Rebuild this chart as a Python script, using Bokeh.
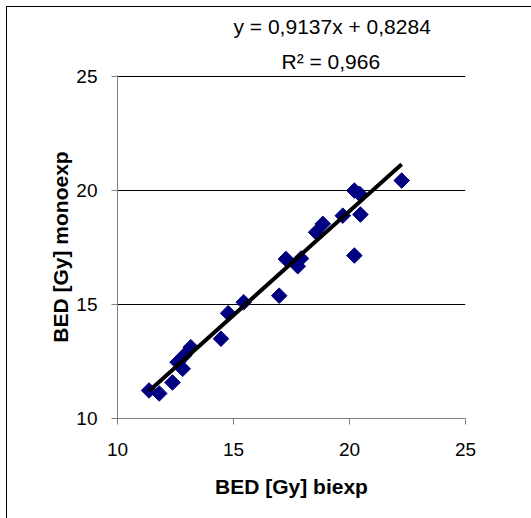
import numpy as np
from bokeh.plotting import figure
from bokeh.models import Title, FixedTicker, ColumnDataSource
from bokeh.embed import file_html
from bokeh.resources import INLINE

# Data
bed_biexp = [11.36, 11.8, 12.37, 12.81, 12.59, 12.87, 13.16, 14.46, 14.77, 15.44,
             16.97, 17.26, 17.77, 17.91, 18.56, 18.85, 19.71, 20.21, 20.21, 20.43,
             20.47, 22.25]
bed_monoexp = [11.23, 11.1, 11.58, 12.18, 12.47, 12.76, 13.13, 13.5, 14.62, 15.1,
               15.39, 17.0, 16.68, 17.02, 18.17, 18.54, 18.9, 17.15, 20.0, 19.86,
               18.95, 20.44]
slope = 0.9137
intercept = 0.8284
r_squared = 0.966
ticks = [10, 15, 20, 25]

FONT = "Liberation Sans"

p = figure(width=530, height=516, output_backend="svg", toolbar_location=None,
           x_range=(10, 25), y_range=(10, 25.05),
           min_border_left=110, min_border_right=72, min_border_top=68, min_border_bottom=105)
p.styles = {"margin-left": "7px", "margin-top": "7px",
            "box-shadow": "-1px -1px 0px 0px black"}
p.outline_line_color = None
p.background_fill_color = "white"
p.border_fill_color = "white"

for ax in (p.xaxis[0], p.yaxis[0]):
    ax.ticker = FixedTicker(ticks=ticks)
    ax.minor_tick_line_color = None
    ax.major_tick_in = 0
    ax.major_tick_out = 6
    ax.axis_line_color = "#808080"
    ax.major_tick_line_color = "#808080"
    ax.major_label_text_font = FONT
    ax.major_label_text_font_size = "19px"
    ax.major_label_text_color = "black"
    ax.axis_label_text_font = FONT
    ax.axis_label_text_font_size = "21px"
    ax.axis_label_text_font_style = "bold"
    ax.axis_label_text_color = "black"

p.xaxis.axis_label = "BED [Gy] biexp"
p.yaxis.axis_label = "BED [Gy] monoexp"
p.xaxis.major_label_standoff = 18
p.xaxis.axis_label_standoff = 16
p.yaxis.major_label_standoff = 14
p.yaxis.axis_label_standoff = 1

p.xgrid.grid_line_color = None
p.ygrid.grid_line_color = "black"
p.ygrid.grid_line_width = 1

src = ColumnDataSource(dict(x=bed_biexp, y=bed_monoexp))
p.scatter("x", "y", source=src, marker="square", size=11, angle=np.pi / 4,
          fill_color="#000080", line_color="#000080")

xs = [min(bed_biexp), max(bed_biexp)]
ys = [slope * v + intercept for v in xs]
p.line(xs, ys, line_color="black", line_width=4)

eq = "y = " + f"{slope:.4f}".replace(".", ",") + "x + " + f"{intercept:.4f}".replace(".", ",")
r2 = "R\u00b2 = " + f"{r_squared:.3f}".replace(".", ",")
p.add_layout(Title(text=r2, align="left", offset=164, standoff=6, vertical_align="bottom",
                   text_font=FONT, text_font_size="21px", text_font_style="normal",
                   text_color="black"), "above")
p.add_layout(Title(text=eq, align="left", offset=116, standoff=10, vertical_align="top",
                   text_font=FONT, text_font_size="21px", text_font_style="normal",
                   text_color="black"), "above")

open("out.html", "w").write(file_html(p, INLINE))
